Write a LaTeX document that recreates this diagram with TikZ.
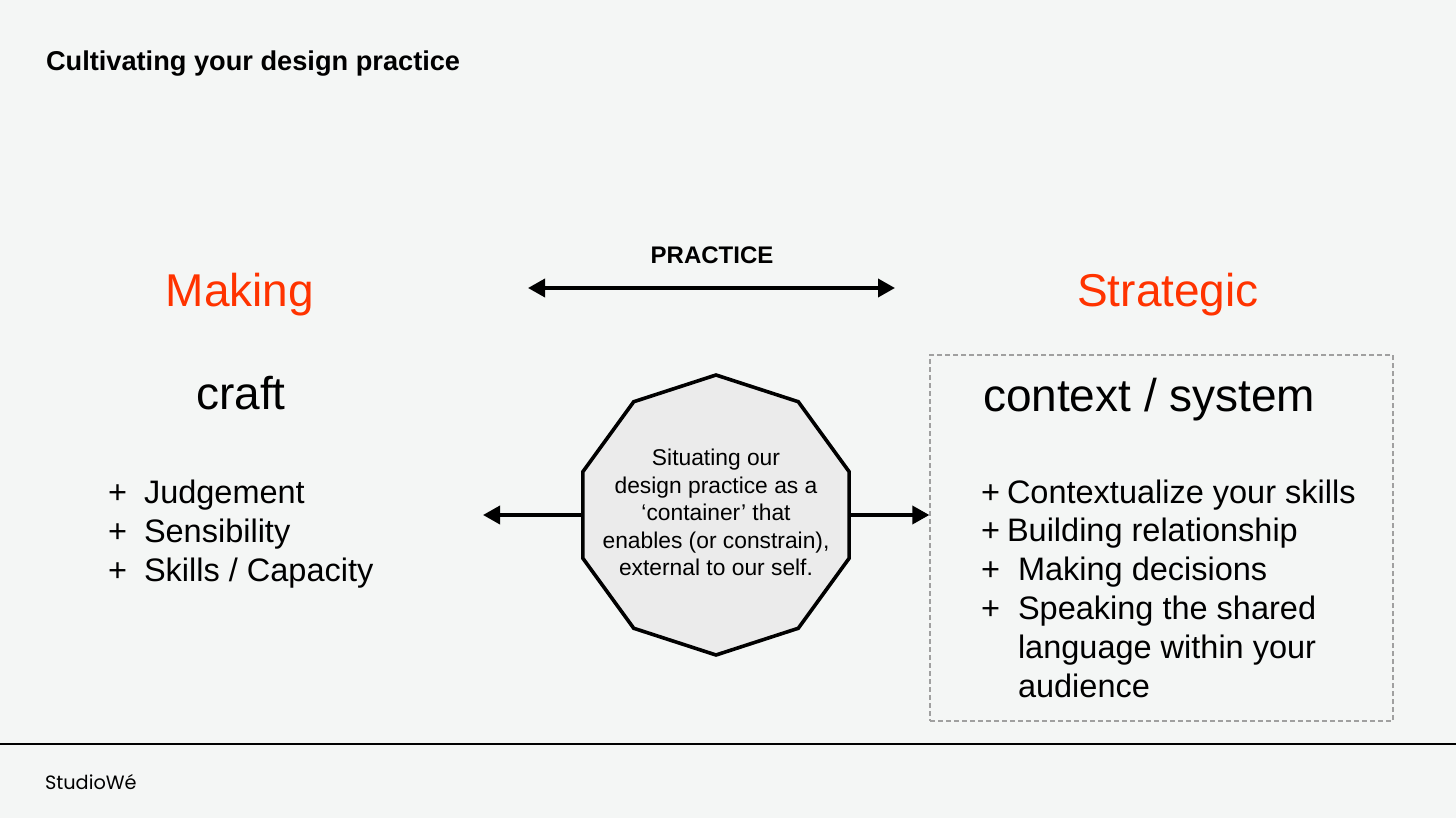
\documentclass[tikz,border=0pt]{standalone}
\usepackage{fontspec}
\setmainfont{Liberation Sans}
\newfontfamily\logofont{Poppins}
\usetikzlibrary{arrows.meta,shapes.geometric}
\definecolor{bg}{HTML}{F4F6F5}
\definecolor{accent}{HTML}{FF3300}
\definecolor{decfill}{HTML}{EBEBEB}
\definecolor{dashgray}{HTML}{A0A0A0}
\tikzset{
  txt/.style={inner sep=0pt, outer sep=0pt},
  big/.style={txt, font=\fontsize{46}{55}\selectfont},
  head/.style={big, text=accent},
  item/.style={txt, anchor=base west, font=\fontsize{32.5}{39}\selectfont},
  arr/.style={line width=3.6pt, -{Triangle[length=17pt,width=18pt]}},
  darr/.style={line width=3.6pt, {Triangle[length=17pt,width=18pt]}-{Triangle[length=17pt,width=18pt]}},
  decagon/.style={draw, line width=3.6pt, fill=decfill, regular polygon, regular polygon sides=10,
    minimum size=280pt, inner sep=0pt, shape border rotate=18},
  dashbox/.style={draw=dashgray, line width=1.3pt, dash pattern=on 5pt off 3pt, inner sep=0pt,
    minimum width=463pt, minimum height=366pt},
}
\begin{document}
\begin{tikzpicture}[x=1pt,y=-1pt]
\fill[bg] (0,0) rectangle (1456,818);
\useasboundingbox (0,0) rectangle (1456,818);

% title
\node[txt, anchor=base west, font=\bfseries\fontsize{27.2}{32}\selectfont] (title) at (46,71) {Cultivating your design practice};

% practice arrow
\node[txt, anchor=base, font=\bfseries\fontsize{24}{28}\selectfont] (practice) at (712,264) {PRACTICE};
\coordinate (pl) at (528,288);
\coordinate (pr) at (895,288);
\draw[darr] (pl) -- (pr);

% headings
\node[head, anchor=base] (making) at (240,306) {Making};
\node[head, anchor=base] (strategic) at (1168,306) {Strategic};

% craft column
\node[big, anchor=base] (craft) at (241,409) {craft};
\node[item] (p1) at (108,503) {+};
\node[item] (l1) at (144,503) {Judgement};
\node[item] (p2) at (108,542) {+};
\node[item] (l2) at (144,542) {Sensibility};
\node[item] (p3) at (108,581) {+};
\node[item] (l3) at (144,581) {Skills / Capacity};

% context box
\node[dashbox] (box) at (1161.5,538) {};
\node[big, anchor=base west] (context) at (983,411) {context / system};
\node[item] (q1) at (981,503) {+};
\node[item] (r1) at (1007,503) {Contextualize your skills};
\node[item] (q2) at (981,541) {+};
\node[item] (r2) at (1007,541) {Building relationship};
\node[item] (q3) at (981,580) {+};
\node[item] (r3) at (1018,580) {Making decisions};
\node[item] (q4) at (981,619) {+};
\node[item] (r4) at (1018,619) {Speaking the shared};
\node[item] (r5) at (1018,658) {language within your};
\node[item] (r6) at (1018,697) {audience};

% decagon
\node[decagon] (dec) at (716,515) {};
\node[txt, align=center, font=\fontsize{22.8}{27.5}\selectfont, anchor=north] (dectext) at (716,449)
  {Situating our\\design practice as a\\‘container’ that\\enables (or constrain),\\external to our self.};
\coordinate (ltip) at (483,515);
\draw[arr] (dec.west) -- (ltip);
\draw[arr] (dec.east) -- (dec.east -| box.west);

% footer
\coordinate (fl) at (0,744);
\coordinate (fr) at (1456,744);
\draw[line width=2pt] (fl) -- (fr);
\node[txt, anchor=base west, font=\logofont\fontsize{19.3}{22}\selectfont] (logo) at (45,789) {StudioWé};
\end{tikzpicture}
\end{document}
